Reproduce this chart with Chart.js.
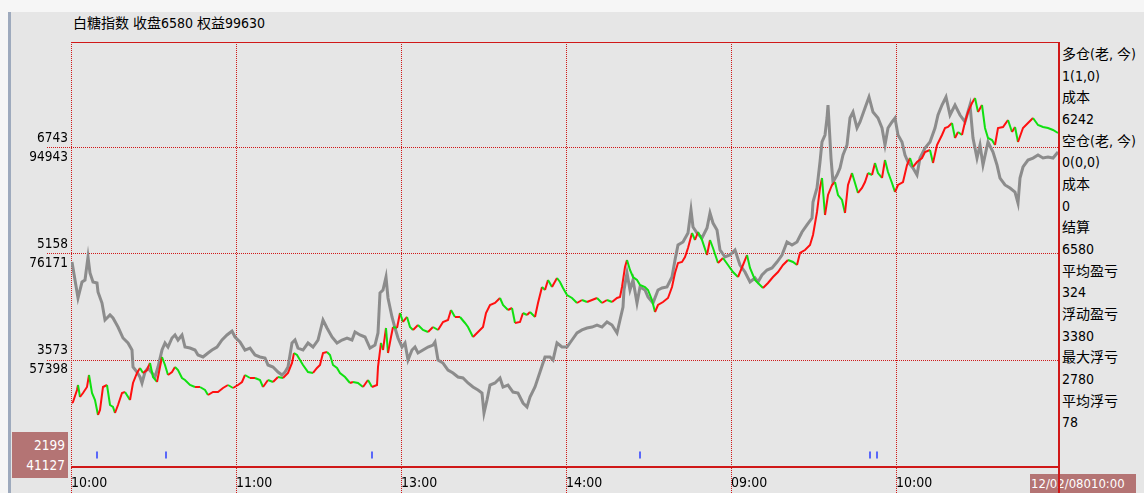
<!DOCTYPE html>
<html><head><meta charset="utf-8">
<script src="https://cdn.jsdelivr.net/npm/chart.js@4/dist/chart.umd.min.js"></script>
<style>
html,body{margin:0;padding:0;background:#f6f6f6;width:1144px;height:493px;overflow:hidden}
#panel{position:absolute;left:8px;top:12px;width:1136px;height:481px;background:#e6e6e6;border-left:3px solid #9eaabd;box-sizing:border-box}
.t{position:absolute;white-space:nowrap;font-family:"DejaVu Sans Condensed","Noto Sans CJK SC",sans-serif;color:#000}
#title{left:73px;top:14px;font-size:14px;line-height:18px}
#side{left:1062px;top:44px;font-size:14px;line-height:21.65px}
#minbox{left:12px;top:432px;width:56px;height:46px;background:#b47474;color:#fff;font-size:13.5px;line-height:20px;text-align:right;box-sizing:border-box;padding:3px 3px 0 0}
#datebox{left:1030px;top:474px;width:106px;height:19px;background:#b47474;color:#fff;font-size:13px;line-height:19px;padding-left:1px;box-sizing:border-box;overflow:hidden}
canvas{position:absolute;left:0;top:0}
</style></head>
<body>
<div id="panel"></div>
<div id="title" class="t"></div>
<div id="side" class="t"></div>
<div id="minbox" class="t"></div>
<div id="datebox" class="t"></div>
<canvas id="c" width="1144" height="493"></canvas>
<script>
// ---- text ----
const titleText = "白糖指数 收盘6580 权益99630";
const sideLines = ["多仓(老, 今)","1(1,0)","成本","6242","空仓(老, 今)","0(0,0)","成本","0","结算","6580","平均盈亏","324","浮动盈亏","3380","最大浮亏","2780","平均浮亏","78"];
const minLabels = ["2199","41127"];
const dateLabel = "12/02/08010:00";

// ---- axes ----
const xTickBars = [0,165,330,495,660,825];
const xTickLabels = ["10:00","11:00","13:00","14:00","09:00","10:00"];
const yTickPrice = [3573,5158,6743];
const yTickEquity = [57398,76171,94943];
const equityMin = 38626, equityMax = 113715;
const priceMin = 1988, priceMax = 8328;

// ---- price series (gray) ----
const priceBars = [1,4,7,11,14,17,19,22,26,27,31,34,39,42,47,52,57,61,62,66,69,71,74,77,81,84,87,91,94,97,101,104,107,111,114,119,124,127,132,137,141,146,151,156,161,164,169,174,179,184,189,194,197,202,207,211,214,217,221,224,227,232,237,242,247,252,256,261,266,271,276,281,284,289,294,299,304,307,309,312,315,317,321,324,327,331,334,337,341,344,347,352,357,362,364,367,372,377,382,387,392,397,402,407,411,413,416,419,424,429,432,437,442,447,452,456,459,464,469,474,479,482,486,491,496,501,506,511,516,521,526,531,536,541,546,549,552,553,556,559,562,566,569,574,577,582,587,591,596,601,604,607,612,617,620,622,626,631,636,639,642,646,649,654,659,664,669,674,679,684,687,691,696,701,706,711,716,721,726,731,736,741,742,746,749,751,754,756,757,758,760,762,766,769,772,776,779,782,786,789,794,798,802,807,811,814,817,821,824,827,831,834,837,842,846,849,854,859,864,867,871,875,879,884,889,894,899,902,906,909,912,917,922,926,929,934,939,944,947,949,952,957,962,967,972,977,982,987];
const priceValues = [5038,4769,4500,4739,4769,5113,4874,4739,4724,4590,4425,4171,4246,4201,4066,3902,3827,3722,3468,3393,3319,3229,3393,3453,3379,3319,3468,3722,3827,3767,3902,3947,3872,3947,3767,3752,3722,3648,3618,3678,3722,3767,3872,3947,4007,3917,3842,3722,3752,3648,3618,3603,3498,3468,3393,3349,3393,3468,3827,3872,3752,3722,3827,3767,3872,4171,4051,3917,3827,3872,3902,3872,3992,3947,3917,3752,3797,3977,4575,4620,4814,4500,4216,4051,3902,3767,3827,3573,3722,3767,3678,3722,3767,3797,3842,3573,3528,3423,3379,3319,3304,3229,3169,3124,3079,2780,2975,3199,3229,3304,3169,3199,3094,3079,2930,2870,3020,3169,3393,3618,3618,3573,3827,3767,3767,3872,3977,4022,4051,4066,4096,4066,4141,4096,3977,4171,4365,4620,4874,4620,4769,4425,4664,4620,4515,4425,4620,4650,4664,4814,5068,5292,5337,5472,5816,5562,5472,5397,5547,5771,5621,5517,5218,5113,5143,5218,4993,4889,4739,4799,4739,4844,4919,4949,5038,5143,5337,5292,5337,5487,5592,5696,5935,6145,6534,6833,6937,7191,7386,7132,6593,6235,6339,6444,6638,6788,7191,7281,7042,7132,7341,7506,7281,7191,7042,6788,7042,7132,7191,6937,6833,6638,6534,6444,6339,6593,6743,6833,7042,7236,7386,7506,7236,7386,7236,7132,7386,6892,6593,6788,6489,6833,6683,6489,6294,6190,6145,6085,5920,6294,6459,6563,6593,6638,6593,6608,6593,6683];

// ---- equity series (red/green) ----
const equityBars = [1,2,6,7,9,12,16,18,21,24,27,29,32,36,39,42,44,47,51,54,59,62,66,69,72,76,79,82,86,89,91,94,97,101,104,107,111,114,119,124,129,134,137,142,147,152,157,162,167,171,174,179,184,189,192,197,202,207,212,217,221,223,226,229,232,237,242,246,249,252,256,259,262,266,269,274,279,282,287,292,297,301,306,307,310,312,315,317,320,322,326,329,332,336,339,342,347,352,357,362,367,372,377,380,384,389,394,397,402,407,412,415,419,424,429,432,437,441,444,449,452,456,459,464,467,471,474,477,481,486,489,492,496,501,506,511,516,521,526,531,536,541,546,549,551,554,556,559,562,566,569,574,577,581,584,587,592,597,601,604,607,611,614,617,621,624,627,631,636,639,642,647,652,657,662,667,672,676,679,684,689,692,697,702,707,712,717,722,726,729,734,739,742,746,749,751,754,757,761,764,767,771,774,777,781,784,787,791,794,797,801,804,807,811,814,817,821,824,827,832,836,839,842,846,851,854,859,862,866,871,874,877,881,884,887,891,894,897,901,904,907,911,914,917,921,924,927,932,937,941,944,947,952,957,962,967,972,977,982,987];
const equityValues = [49785,49962,52087,52972,50847,51556,52618,54743,51556,50316,47660,48545,52618,52972,49431,49076,48014,49431,51556,51733,50316,53327,55097,55983,55097,55629,56868,54389,53504,56160,57931,56514,54743,55275,56160,55629,54212,53858,52972,52618,52618,52087,51201,51733,51733,52441,52972,52441,52972,53504,54743,54212,54212,53858,52618,53858,53504,54389,54212,55097,56868,58639,58285,57400,56514,55275,55097,55983,56514,58639,58816,58285,56514,55983,55097,54389,53327,53504,53327,52618,53858,52618,52972,56160,60410,59170,63066,58639,61473,63244,63066,65723,64129,65014,63244,62712,63598,62712,62358,63244,62712,64129,64483,66254,65014,65014,63952,63244,61473,62358,63244,65723,67140,67494,68379,67140,66254,66608,63952,64129,65723,65369,65900,65014,67494,70327,69796,71567,70327,71921,71213,70150,68910,68379,67494,68025,67671,68025,68379,67494,68025,67671,68379,68556,70327,73869,75109,73338,72098,71567,70681,70327,69796,68025,65900,67140,67671,68379,70327,72806,74577,74754,75640,77234,79890,78650,80067,78650,75994,78650,77234,74577,75463,74223,72984,72098,74223,75994,73692,71567,70681,70150,71036,72098,72984,74223,75109,74754,74223,76348,76880,77765,79536,83609,87859,89630,83078,86619,88390,88922,86619,85734,83432,88390,90515,88745,86974,87859,88922,90515,90161,92286,90515,89630,92818,90692,88745,87151,88390,88922,91932,93172,91578,92463,93172,94234,94589,92286,95474,97245,98484,98662,99370,96714,97776,97245,99547,101318,102912,103797,101318,102558,98484,96714,96359,95474,98484,98662,99901,97776,98662,96005,98484,99370,100255,99016,98662,98484,98130,97599];

// ---- trade signal marks ----
const signalBars = [26,95,301,569,799,806];
const signalLevel = 40575;

document.getElementById('title').textContent = titleText;
document.getElementById('side').innerHTML = sideLines.map(s=>s.replace(/&/g,'&amp;').replace(/</g,'&lt;')).join('<br>');
document.getElementById('minbox').innerHTML = minLabels.join('<br>');
document.getElementById('datebox').textContent = dateLabel;

const FAM = '"DejaVu Sans Condensed","Noto Sans CJK SC",sans-serif';
const RED = '#d01818';

const framePlugin = {
  id: 'frame',
  afterDraw(chart) {
    const {ctx, chartArea: a} = chart;
    ctx.save();
    ctx.strokeStyle = RED;
    ctx.lineWidth = 1;
    ctx.beginPath(); ctx.moveTo(a.left, a.top + 0.5); ctx.lineTo(a.right, a.top + 0.5); ctx.stroke();
    ctx.lineWidth = 2;
    ctx.beginPath(); ctx.moveTo(a.right, a.top); ctx.lineTo(a.right, chart.height); ctx.stroke();
    ctx.beginPath(); ctx.moveTo(a.left, a.bottom + 1); ctx.lineTo(a.right, a.bottom + 1); ctx.stroke();
    ctx.restore();
  }
};

new Chart(document.getElementById('c'), {
  type: 'line',
  data: {
    datasets: [
      {
        type: 'scatter', label: 'signals',
        data: signalBars.map(b => ({x: b, y: signalLevel})),
        yAxisID: 'y', pointStyle: 'line', rotation: 90, radius: 3.5,
        borderColor: '#2a3cff', backgroundColor: '#2a3cff', borderWidth: 1.5, order: 0
      },
      {
        label: 'equity',
        data: equityBars.map((b, i) => ({x: b, y: equityValues[i]})),
        yAxisID: 'y', borderWidth: 2, pointRadius: 0, tension: 0,
        borderColor: '#ff0000',
        segment: { borderColor: c => c.p1.parsed.y >= c.p0.parsed.y ? '#ff1010' : '#10e010' },
        order: 1
      },
      {
        label: 'price',
        data: priceBars.map((b, i) => ({x: b, y: priceValues[i]})),
        yAxisID: 'yPrice', borderColor: '#8c8c8c', borderWidth: 3, pointRadius: 0, tension: 0,
        order: 2
      }
    ]
  },
  options: {
    responsive: false, animation: false, devicePixelRatio: 1,
    layout: { padding: { top: 42, right: 85, left: 0, bottom: 0 } },
    plugins: { legend: { display: false }, tooltip: { enabled: false } },
    scales: {
      x: {
        type: 'linear', min: 0, max: 988,
        afterBuildTicks: s => { s.ticks = xTickBars.map(v => ({value: v})); },
        afterFit: s => { s.height = 27; },
        ticks: {
          callback: v => xTickLabels[xTickBars.indexOf(v)],
          align: 'start', padding: -18, autoSkip: false, maxRotation: 0,
          color: '#000', font: { family: FAM, size: 14 }
        },
        grid: { color: RED, tickColor: RED, tickLength: 27, tickBorderDash: [1, 1] },
        border: { display: false, dash: [1, 1] }
      },
      y: {
        position: 'left', min: equityMin, max: equityMax,
        afterBuildTicks: s => { s.ticks = yTickEquity.map(v => ({value: v})); },
        afterFit: s => { s.width = 71; },
        ticks: {
          callback: v => { const i = yTickEquity.indexOf(v); return [String(yTickPrice[i]), String(yTickEquity[i])]; },
          padding: -21, color: '#000', font: { family: FAM, size: 13.5, lineHeight: 1.4 }
        },
        grid: { color: RED, tickColor: RED, tickLength: 24, tickBorderDash: [1, 1] },
        border: { display: false, dash: [1, 1] }
      },
      yPrice: { display: false, min: priceMin, max: priceMax }
    }
  },
  plugins: [framePlugin]
});
</script>
</body></html>
